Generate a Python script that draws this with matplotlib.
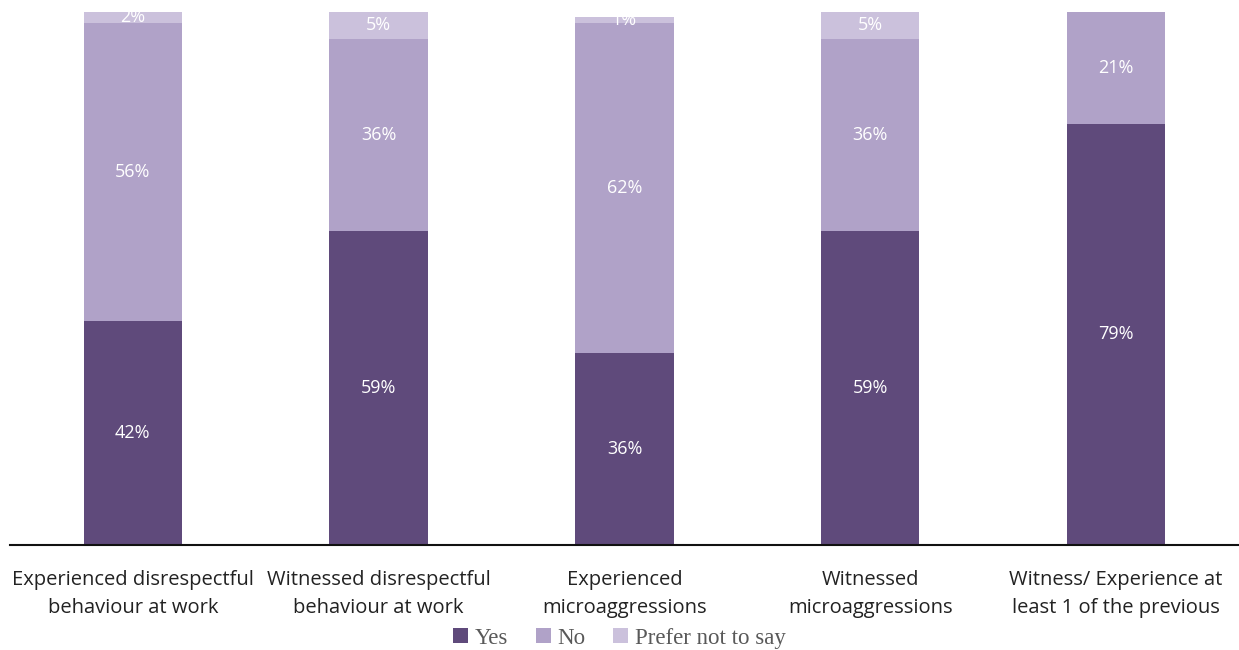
import matplotlib
matplotlib.use("Agg")
import matplotlib.pyplot as plt
import numpy as np

categories = [
    "Experienced disrespectful\nbehaviour at work",
    "Witnessed disrespectful\nbehaviour at work",
    "Experienced\nmicroaggressions",
    "Witnessed\nmicroaggressions",
    "Witness/ Experience at\nleast 1 of the previous",
]
yes = [42, 59, 36, 59, 79]
no = [56, 36, 62, 36, 21]
prefer_not = [2, 5, 1, 5, 0]

series = [("Yes", yes, "#5f4a7b"), ("No", no, "#b0a2c8"), ("Prefer not to say", prefer_not, "#cbc1dc")]

fig = plt.figure(figsize=(12.39, 6.5), dpi=100)
ax = fig.add_axes([0.008, 0.1615, 0.992, 0.82])

x = np.arange(len(categories))
bottom = np.zeros(len(categories))
for name, vals, color in series:
    vals = np.array(vals, dtype=float)
    ax.bar(x, vals, width=0.4, bottom=bottom, color=color, label=name, linewidth=0)
    for xi, b, v in zip(x, bottom, vals):
        if v > 0:
            ax.text(xi, b + v / 2, f"{int(v)}%", ha="center", va="center",
                    color="white", fontsize=13, family="Open Sans", fontweight="medium")
    bottom += vals

ax.set_xlim(-0.5, 4.5)
ax.set_ylim(0, 100)
ax.set_yticks([])
for s in ["top", "left", "right"]:
    ax.spines[s].set_visible(False)
ax.spines["bottom"].set_linewidth(1.5)
ax.spines["bottom"].set_color("#111111")
ax.set_xticks(x)
ax.set_xticklabels(categories, fontsize=14.5, family="Open Sans", color="#222222", linespacing=1.55)
ax.tick_params(axis="x", length=0, pad=18)

fig.legend(loc="center", bbox_to_anchor=(0.5, 0.018), ncol=3, frameon=False,
           prop={"family": "Liberation Serif", "size": 16.5}, handlelength=0.65, handleheight=0.65,
           handletextpad=0.3, columnspacing=1.2, labelcolor="#595959")

fig.savefig("out.png", dpi=100)
